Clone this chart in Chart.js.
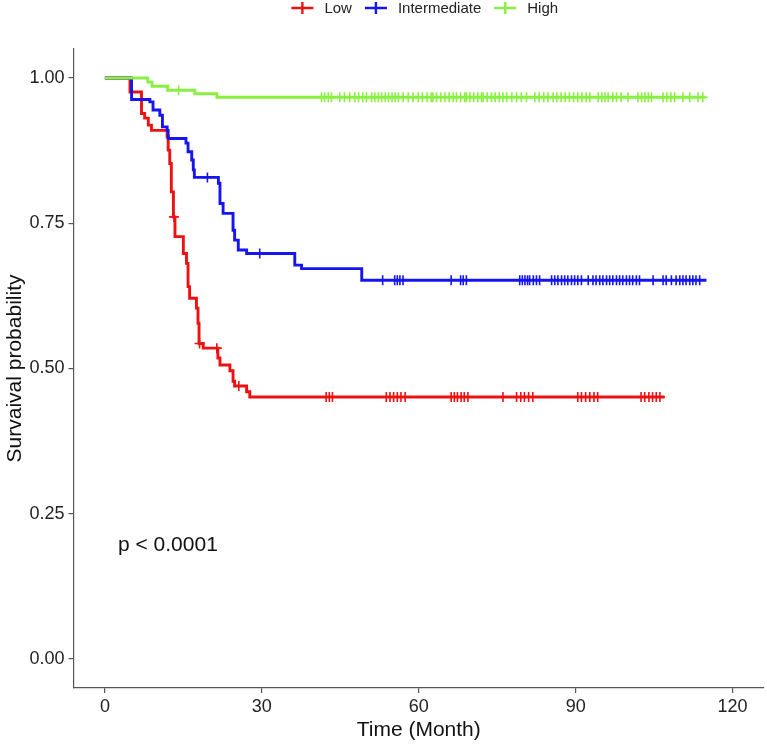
<!DOCTYPE html>
<html>
<head>
<meta charset="utf-8">
<script src="https://cdn.jsdelivr.net/npm/chart.js@4.4.0/dist/chart.umd.min.js"></script>
<style>
  html, body { margin: 0; padding: 0; background: #fff; }
</style>
</head>
<body>
<canvas id="km" width="767" height="745"></canvas>
<script>
// Curvas de supervivencia (tiempo en meses, probabilidad)
const lowTime = [0, 4.8, 7.0, 7.6, 8.3, 8.9, 11.9, 12.1, 12.4, 12.7, 13.1, 13.4, 15.0, 15.6, 15.9, 16.2, 17.5, 17.8, 18.0, 18.8, 21.6, 22.0, 23.9, 24.5, 24.8, 27.1, 27.7];
const lowSurv = [1.0, 0.976, 0.939, 0.931, 0.919, 0.910, 0.899, 0.876, 0.853, 0.804, 0.761, 0.727, 0.698, 0.681, 0.641, 0.621, 0.604, 0.578, 0.543, 0.535, 0.518, 0.506, 0.496, 0.478, 0.470, 0.460, 0.451];
const lowEnd = 107;
const lowCensor = [13.2, 18.1, 21.4, 25.6, 42.3, 42.9, 43.5, 53.8, 54.5, 55.2, 55.9, 56.6, 57.4, 66.2, 66.8, 67.4, 68.1, 68.7, 69.4, 76.1, 78.7, 79.5, 80.2, 81.0, 81.8, 90.4, 91.1, 91.9, 92.7, 93.5, 94.2, 102.5, 103.2, 104.0, 104.7, 105.4, 106.1];

const midTime = [0, 5.1, 8.6, 9.2, 10.5, 11.0, 11.9, 12.1, 15.5, 15.9, 16.6, 16.9, 17.1, 21.7, 22.0, 22.6, 24.5, 24.8, 25.5, 27.1, 36.3, 37.6, 49.1];
const midSurv = [1.0, 0.963, 0.959, 0.945, 0.936, 0.916, 0.910, 0.896, 0.888, 0.873, 0.859, 0.842, 0.829, 0.819, 0.784, 0.767, 0.738, 0.721, 0.704, 0.698, 0.678, 0.672, 0.652];
const midEnd = 115;
const midCensor = [19.6, 29.6, 53.1, 55.4, 55.9, 56.4, 57.0, 66.2, 68.0, 68.5, 69.1, 79.3, 79.8, 80.3, 80.8, 81.2, 81.9, 82.5, 83.1, 85.4, 86.0, 86.6, 87.3, 87.9, 88.5, 89.2, 89.8, 90.4, 91.1, 92.4, 93.3, 93.9, 94.6, 95.2, 95.9, 96.5, 97.1, 97.8, 98.4, 99.0, 99.7, 100.3, 100.9, 101.6, 102.2, 104.8, 106.7, 107.3, 108.3, 109.2, 109.9, 110.5, 111.1, 111.8, 112.4, 113.0, 113.7];

const highTime = [0, 8.2, 9.0, 12.0, 17.2, 21.4];
const highSurv = [1.0, 0.993, 0.986, 0.979, 0.973, 0.967];
const highEnd = 114.8;
const highCensor = [14.1, 41.4, 42.0, 42.7, 43.3, 44.9, 45.8, 46.8, 47.8, 48.5, 49.3, 50.0, 51.0, 51.6, 52.3, 52.9, 53.6, 54.2, 54.9, 55.5, 56.1, 57.0, 58.0, 58.9, 59.9, 60.7, 61.6, 62.4, 62.7, 63.4, 64.2, 65.0, 65.8, 66.6, 67.2, 68.0, 68.8, 69.1, 69.8, 70.5, 71.3, 72.0, 72.3, 73.1, 73.9, 74.6, 75.4, 76.1, 76.8, 77.8, 78.7, 79.6, 80.6, 82.2, 83.0, 83.9, 84.7, 85.7, 86.4, 87.2, 88.0, 88.8, 89.6, 90.4, 91.2, 92.0, 92.7, 94.3, 95.0, 95.6, 96.2, 97.1, 97.8, 98.7, 100.0, 101.9, 102.6, 103.2, 103.9, 104.5, 106.7, 107.4, 108.2, 108.9, 110.5, 111.8, 113.4, 114.3];

const grupos = ['Low', 'Intermediate', 'High'];
const colores = ['#ee1111', '#1515ee', '#88f040'];
const xTicks = [0, 30, 60, 90, 120];
const yTicks = [0, 0.25, 0.5, 0.75, 1];
const pTexto = 'p < 0.0001';
const pPos = [2.5, 0.195];

// Valor de la curva en un tiempo dado (para colocar las marcas de censura)
function survEn(tiempos, surv, t) {
    let v = surv[0];
    for (let i = 0; i < tiempos.length; i++) {
        if (tiempos[i] <= t) v = surv[i];
    }
    return v;
}

function curva(tiempos, surv, fin) {
    const pts = tiempos.map((t, i) => ({x: t, y: surv[i]}));
    pts.push({x: fin, y: surv[surv.length - 1]});
    return pts;
}

function censuras(tiempos, surv, cens) {
    return cens.map(t => ({x: t, y: survEn(tiempos, surv, t)}));
}

const series = [
    {t: highTime, s: highSurv, fin: highEnd, c: highCensor, col: colores[2]},
    {t: midTime, s: midSurv, fin: midEnd, c: midCensor, col: colores[1]},
    {t: lowTime, s: lowSurv, fin: lowEnd, c: lowCensor, col: colores[0]}
];

const datasets = [];
series.forEach(g => {
    datasets.push({
        data: curva(g.t, g.s, g.fin),
        showLine: true,
        stepped: 'before',
        borderColor: g.col,
        borderWidth: 2.9,
        pointRadius: 0,
        fill: false
    });
    datasets.push({
        data: censuras(g.t, g.s, g.c),
        showLine: false,
        pointStyle: 'cross',
        pointRadius: 5,
        borderColor: g.col,
        borderWidth: 1.6
    });
});

const fuente = '"Liberation Sans", Arial, sans-serif';

// Leyenda superior y texto del p-valor
const extras = {
    id: 'extras',
    afterDraw(chart) {
        const ctx = chart.ctx;
        const xs = chart.scales.x, ys = chart.scales.y;
        ctx.save();
        ctx.font = '21px ' + fuente;
        ctx.fillStyle = '#111';
        ctx.textAlign = 'left';
        ctx.textBaseline = 'middle';
        ctx.fillText(pTexto, xs.getPixelForValue(pPos[0]), ys.getPixelForValue(pPos[1]));

        ctx.font = '15px ' + fuente;
        const anchoMarca = 22, sepTexto = 11, sepItem = 13;
        let total = 0;
        grupos.forEach((g, i) => {
            total += anchoMarca + sepTexto + ctx.measureText(g).width;
            if (i < grupos.length - 1) total += sepItem;
        });
        let x = (chart.chartArea.left + chart.chartArea.right) / 2 + 6 - total / 2;
        const y = 8;
        grupos.forEach((g, i) => {
            ctx.strokeStyle = colores[i];
            ctx.lineWidth = 2.4;
            ctx.beginPath();
            ctx.moveTo(x, y); ctx.lineTo(x + anchoMarca, y);
            ctx.moveTo(x + anchoMarca / 2, y - 6); ctx.lineTo(x + anchoMarca / 2, y + 6);
            ctx.stroke();
            x += anchoMarca + sepTexto;
            ctx.fillStyle = '#222';
            ctx.fillText(g, x, y + 1);
            x += ctx.measureText(g).width + sepItem;
        });
        ctx.restore();
    }
};

new Chart(document.getElementById('km'), {
    type: 'scatter',
    data: {datasets: datasets},
    options: {
        responsive: false,
        animation: false,
        layout: {autoPadding: false, padding: {top: 49, right: 3, left: 0, bottom: 0}},
        plugins: {legend: {display: false}, tooltip: {enabled: false}},
        scales: {
            x: {
                type: 'linear',
                min: -6,
                max: 126,
                afterBuildTicks: s => { s.ticks = xTicks.map(v => ({value: v})); },
                afterFit: s => { s.height = 57; s.paddingRight = 0; s.paddingLeft = 0; },
                grid: {drawOnChartArea: false, drawTicks: true, tickLength: 5, color: '#555', lineWidth: 1.2},
                border: {display: true, color: '#555', width: 1.2},
                ticks: {color: '#222', font: {size: 18, family: fuente}, padding: 3},
                title: {display: true, text: 'Time (Month)', color: '#111', font: {size: 21, family: fuente}, padding: {top: 0, bottom: 2}}
            },
            y: {
                type: 'linear',
                min: -0.05,
                max: 1.05,
                afterBuildTicks: s => { s.ticks = yTicks.map(v => ({value: v})); },
                afterFit: s => { s.width = 73.5; },
                grid: {drawOnChartArea: false, drawTicks: true, tickLength: 5, color: '#555', lineWidth: 1.2},
                border: {display: true, color: '#555', width: 1.2},
                ticks: {color: '#222', font: {size: 18, family: fuente}, padding: 4, callback: v => v.toFixed(2)},
                title: {display: true, text: 'Survaival probability', color: '#111', font: {size: 21, family: fuente}, padding: {top: 3, bottom: 0}}
            }
        }
    },
    plugins: [extras]
});
</script>
</body>
</html>
